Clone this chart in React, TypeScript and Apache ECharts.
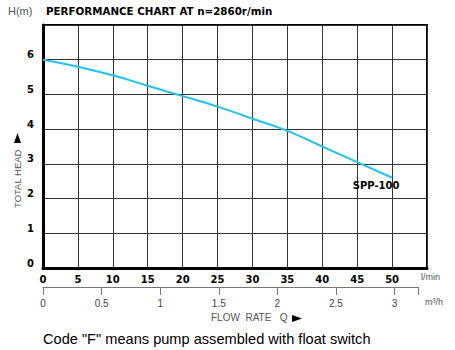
import React, { useEffect, useRef } from "react";
import * as echarts from "echarts";

const flowLmin = [0, 5, 10, 15, 20, 25, 30, 35, 40, 45, 50];
const headM = [6.0, 5.8, 5.55, 5.25, 4.95, 4.65, 4.3, 3.95, 3.5, 3.05, 2.6];
const modelName = "SPP-100";
const titleText = "PERFORMANCE CHART AT n=2860r/min";
const footnote = 'Code "F" means pump assembled with float switch';

export default function App() {
  const ref = useRef<HTMLDivElement>(null);
  useEffect(() => {
    if (!ref.current) return;
    const chart = echarts.init(ref.current, null, { renderer: "svg" });
    const data = flowLmin.map((x, i) =>
      i === flowLmin.length - 1
        ? {
            value: [x, headM[i]],
            label: {
              show: true,
              formatter: modelName,
              position: "bottom",
              distance: 3,
              offset: [-16, 0],
              color: "#000",
              fontWeight: "bold",
              fontSize: 10,
              fontFamily: "DejaVu Sans",
            },
          }
        : [x, headM[i]]
    );
    const boldLabel = {
      color: "#000",
      fontWeight: "bold" as const,
      fontSize: 10,
      fontFamily: "DejaVu Sans",
    };
    chart.setOption({
      animation: false,
      backgroundColor: "#fff",
      grid: [
        {
          left: 43,
          top: 25,
          width: 384,
          height: 243,
          show: true,
          borderColor: "#000",
          borderWidth: 2,
          backgroundColor: "transparent",
        },
        { left: 43, top: 286, width: 375, height: 1, show: false },
      ],
      xAxis: [
        {
          type: "value",
          gridIndex: 0,
          min: 0,
          max: 55,
          interval: 5,
          axisLine: { show: true, lineStyle: { color: "#000", width: 3 } },
          axisTick: { show: false },
          splitLine: { show: true, lineStyle: { color: "#333", width: 1 } },
          axisLabel: { ...boldLabel, showMaxLabel: false, margin: 6 },
        },
        {
          type: "value",
          gridIndex: 1,
          min: 0,
          max: 3.2,
          interval: 0.5,
          position: "bottom",
          axisLine: { show: true, lineStyle: { color: "#777", width: 1 } },
          axisTick: { show: true, length: 8, lineStyle: { color: "#777" } },
          splitLine: { show: false },
          axisLabel: {
            color: "#444",
            fontSize: 10,
            fontFamily: "Liberation Sans",
            margin: 11,
            formatter: (v: number) => (v > 3.01 ? "" : String(v)),
          },
        },
      ],
      yAxis: [
        {
          type: "value",
          gridIndex: 0,
          min: 0,
          max: 7,
          interval: 1,
          axisLine: { show: true, lineStyle: { color: "#000", width: 3 } },
          axisTick: { show: false },
          splitLine: { show: true, lineStyle: { color: "#333", width: 1 } },
          axisLabel: { ...boldLabel, showMaxLabel: false, margin: 9, verticalAlign: "bottom" },
        },
        { type: "value", gridIndex: 1, show: false },
      ],
      series: [
        {
          type: "line",
          xAxisIndex: 0,
          yAxisIndex: 0,
          data,
          smooth: true,
          symbol: "circle",
          symbolSize: 0,
          showSymbol: true,
          itemStyle: { color: "#1ec3f0" },
          lineStyle: { color: "#1ec3f0", width: 2 },
        },
      ],
      graphic: [
        {
          type: "text",
          left: 8,
          top: 5,
          style: { text: "H(m)", fill: "#555", fontSize: 11, fontFamily: "Liberation Sans" },
        },
        {
          type: "text",
          left: 46,
          top: 6,
          style: {
            text: titleText,
            fill: "#000",
            fontSize: 10.3,
            fontWeight: "bold",
            fontFamily: "DejaVu Sans",
          },
        },
        {
          type: "text",
          x: 12,
          y: 208,
          rotation: Math.PI / 2,
          style: {
            text: "TOTAL HEAD",
            fill: "#555",
            fontSize: 9.5,
            fontFamily: "Liberation Sans",
            verticalAlign: "top",
          },
        },
        {
          type: "polygon",
          shape: { points: [[17.5, 133], [14, 143], [21, 143]] },
          style: { fill: "#000" },
        },
        {
          type: "text",
          left: 421,
          top: 272,
          style: { text: "l/min", fill: "#555", fontSize: 9, fontFamily: "Liberation Sans" },
        },
        {
          type: "text",
          left: 425,
          top: 297,
          style: { text: "m³/h", fill: "#555", fontSize: 9, fontFamily: "Liberation Sans" },
        },
        {
          type: "text",
          left: 211,
          top: 312,
          style: { text: "FLOW  RATE   Q", fill: "#555", fontSize: 10, fontFamily: "Liberation Sans" },
        },
        {
          type: "polygon",
          shape: { points: [[292, 315], [302, 318.5], [292, 322]] },
          style: { fill: "#000" },
        },
        {
          type: "text",
          left: 43,
          top: 331,
          style: { text: footnote, fill: "#000", fontSize: 14.6, fontFamily: "Liberation Sans" },
        },
      ],
    });
    return () => chart.dispose();
  }, []);
  return (
    <div
      ref={ref}
      style={{ position: "fixed", left: 0, top: 0, width: 455, height: 350 }}
    />
  );
}
